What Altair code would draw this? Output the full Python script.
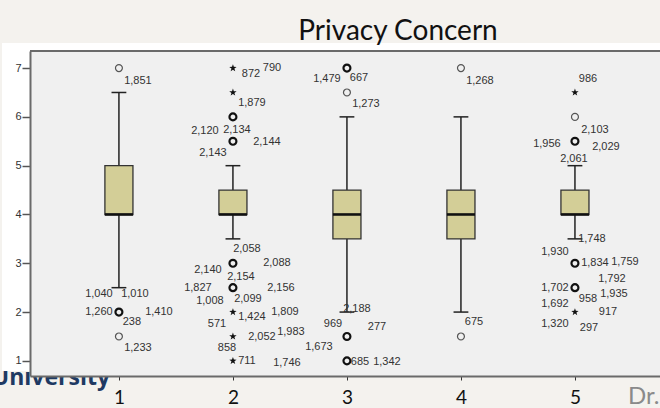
import altair as alt
import pandas as pd

# Box statistics per group
groups = [1, 2, 3, 4, 5]
q1 = [4.0, 4.0, 3.5, 3.5, 4.0]
median = [4.0, 4.0, 4.0, 4.0, 4.0]
q3 = [5.0, 4.5, 4.5, 4.5, 4.5]
whisk_lo = [2.5, 3.5, 2.0, 2.0, 3.5]
whisk_hi = [6.5, 5.0, 6.0, 6.0, 5.0]

# Outliers: "o" = outlier, "*" = extreme
out_group = [1, 1, 1,
             2, 2, 2, 2, 2, 2, 2, 2, 2,
             3, 3, 3, 3,
             4, 4,
             5, 5, 5, 5, 5, 5]
out_value = [7, 2, 1.5,
             7, 6.5, 6, 5.5, 3, 2.5, 2, 1.5, 1,
             7, 6.5, 1.5, 1,
             7, 1.5,
             6.5, 6, 5.5, 3, 2.5, 2]
out_kind = ["o", "o", "o",
            "*", "*", "o", "o", "o", "o", "*", "*", "*",
            "o", "o", "o", "o",
            "o", "o",
            "*", "o", "o", "o", "o", "*"]

# Case labels attached to outliers (number of labels per group: 7, 23, 9, 2, 17)
lab_group = [1] * 7 + [2] * 23 + [3] * 9 + [4] * 2 + [5] * 17
lab_value = [7, 2, 2, 2, 2, 2, 1.5,
             7, 7, 6.5, 6, 6, 5.5, 5.5, 3, 3, 3, 3, 2.5, 2.5, 2.5, 2.5, 2, 2, 2, 1.5, 1.5, 1.5, 1, 1,
             7, 7, 6.5, 1.5, 1.5, 1.5, 1.5, 1, 1,
             7, 1.5,
             6.5, 6, 5.5, 5.5, 5.5, 3, 3, 3, 3, 3, 2.5, 2.5, 2.5, 2.5, 2, 2, 2]
lab_text = ["1,851", "1,040", "1,010", "1,260", "1,410", "238", "1,233",
            "872", "790", "1,879", "2,120", "2,134", "2,144", "2,143",
            "2,058", "2,140", "2,088", "2,154", "1,827", "2,156", "1,008", "2,099",
            "1,424", "1,809", "571", "2,052", "1,983", "858", "711", "1,746",
            "1,479", "667", "1,273", "2,188", "969", "277", "1,673", "685", "1,342",
            "1,268", "675",
            "986", "2,103", "1,956", "2,029", "2,061",
            "1,748", "1,930", "1,834", "1,759", "1,792",
            "1,702", "1,935", "958", "1,692", "917", "1,320", "297"]

# Label placement around each point (pixels)
lab_dx = [19, -20, 16, -20, 40, 13, 19,
          18, 39, 19, -28, 4, 34, -20,
          14, -25, 44, 8, -35, 48, -23, 15,
          19, 52, -16, 29, 58, -6, 14, 54,
          -20, 12, 19, 10, -14, 30, -28, 13, 40,
          19, 13,
          13, 20, -28, 31, -1,
          17, -20, 20, 50, 37,
          -20, 39, 13, -20, 33, -20, 14]
lab_dy = [13, -18, -18, 0, 0, 10, 12,
          6, 0, 11, 14, 13, 1, 12,
          -14, 7, 0, 14, 0, 0, 13, 11,
          5, 0, 12, 1, -4, 12, 0, 2,
          11, 10, 12, -27, -12, -9, 11, 1, 1,
          13, -14,
          -13, 13, 3, 6, 18,
          -24, -11, 0, -1, 16,
          0, 6, 11, 16, 0, 12, 16]

boxes = pd.DataFrame({"group": groups, "q1": q1, "median": median, "q3": q3,
                      "lo": whisk_lo, "hi": whisk_hi})
labels = pd.DataFrame({"group": lab_group, "value": lab_value, "text": lab_text,
                       "dx": lab_dx, "dy": lab_dy})
outliers = pd.DataFrame({"group": out_group, "value": out_value, "kind": out_kind})
counts = labels.groupby(["group", "value"]).size().rename("n").reset_index()
outliers = outliers.merge(counts, on=["group", "value"], how="left").fillna({"n": 1})

one = pd.DataFrame({"k": [0]})

W, H = 630, 325
BOX_HALF = 0.123
CAP_HALF = 0.065
LABEL_FONT = "Liberation Sans"
BOX_FILL = "#d3ce97"
STAR = ("M0,-1L0.235,-0.324L0.951,-0.309L0.380,0.124L0.588,0.809L0,0.4"
        "L-0.588,0.809L-0.380,0.124L-0.951,-0.309L-0.235,-0.324Z")

xs = alt.Scale(domain=[0.22, 5.746], nice=False, zero=False)
ys = alt.Scale(domain=[0.69, 7.35], nice=False, zero=False)

x_axis = alt.Axis(values=groups, format="d", title=None, grid=False, zindex=1,
                  domainColor="#6a6a6a", domainWidth=2, tickColor="#333",
                  tickSize=4, labelFontSize=19, labelFont="Lato",
                  labelColor="#111", labelPadding=8, labelAngle=0)
y_axis = alt.Axis(values=[1, 2, 3, 4, 5, 6, 7], format="d", title=None, grid=False,
                  zindex=1, domainColor="#6a6a6a", domainWidth=2, tickColor="#555",
                  tickSize=8, tickWidth=1.5, labelFontSize=11, labelFont=LABEL_FONT,
                  labelColor="#333", labelPadding=1)

base = alt.Chart(boxes)

# slide footer text partly hidden under the chart panel
footer = alt.Chart(one).mark_text(text="University", font="Open Sans", fontSize=23,
                                  fontWeight="bold", color="#1f3a63", align="right",
                                  baseline="alphabetic").encode(
    x=alt.value(80), y=alt.value(334))
white = alt.Chart(one).mark_rect(color="white").encode(
    x=alt.value(-28), x2=alt.value(W), y=alt.value(-8), y2=alt.value(H - 5))
panel = alt.Chart(one).mark_rect(color="#f0f0f0").encode(
    x=alt.value(0), x2=alt.value(W), y=alt.value(0), y2=alt.value(H))
top_border = alt.Chart(one).mark_rule(color="#6a6a6a", strokeWidth=2).encode(
    x=alt.value(0), x2=alt.value(W), y=alt.value(0))

whisk_up = base.mark_rule(color="#222", strokeWidth=1.5).encode(
    x=alt.X("group:Q", scale=xs, axis=x_axis),
    y=alt.Y("q3:Q", scale=ys, axis=y_axis), y2="hi:Q")
whisk_dn = base.mark_rule(color="#222", strokeWidth=1.5).encode(
    x=alt.X("group:Q", scale=xs), y=alt.Y("lo:Q", scale=ys), y2="q1:Q")

box = base.transform_calculate(
    x0=f"datum.group - {BOX_HALF}", x1=f"datum.group + {BOX_HALF}"
).mark_rect(fill=BOX_FILL, stroke="#333", strokeWidth=1.3).encode(
    x=alt.X("x0:Q", scale=xs), x2="x1:Q",
    y=alt.Y("q1:Q", scale=ys), y2="q3:Q")

med = base.transform_calculate(
    x0=f"datum.group - {BOX_HALF}", x1=f"datum.group + {BOX_HALF}"
).mark_rule(color="#111", strokeWidth=2.6).encode(
    x=alt.X("x0:Q", scale=xs), x2="x1:Q", y=alt.Y("median:Q", scale=ys))

caps = base.transform_fold(["lo", "hi"], as_=["end", "v"]).transform_calculate(
    x0=f"datum.group - {CAP_HALF}", x1=f"datum.group + {CAP_HALF}"
).mark_rule(color="#222", strokeWidth=1.5).encode(
    x=alt.X("x0:Q", scale=xs), x2="x1:Q", y=alt.Y("v:Q", scale=ys))

pts = alt.Chart(outliers)
circ_thin = pts.transform_filter("datum.kind == 'o' && datum.n < 2").mark_point(
    shape="circle", filled=False, size=48, color="#555", strokeWidth=1.2, opacity=1).encode(
    x=alt.X("group:Q", scale=xs), y=alt.Y("value:Q", scale=ys))
circ_bold = pts.transform_filter("datum.kind == 'o' && datum.n >= 2").mark_point(
    shape="circle", filled=False, size=48, color="#111", strokeWidth=2.2, opacity=1).encode(
    x=alt.X("group:Q", scale=xs), y=alt.Y("value:Q", scale=ys))
stars = pts.transform_filter("datum.kind == '*'").mark_point(
    shape=STAR, filled=True, size=60, color="#111", opacity=1).encode(
    x=alt.X("group:Q", scale=xs), y=alt.Y("value:Q", scale=ys))

# case numbers, nudged around their point by per-label pixel offsets
case_text = alt.Chart(labels).mark_text(
    font=LABEL_FONT, fontSize=11, color="#333", align="center", baseline="middle",
    dx=alt.expr("datum.dx"), dy=alt.expr("datum.dy")
).encode(
    x=alt.X("group:Q", scale=xs), y=alt.Y("value:Q", scale=ys),
    text="text:N")

title = alt.Chart(one).mark_text(text="Privacy Concern", font="Lato", fontSize=28,
                                 color="#111", align="center",
                                 baseline="alphabetic").encode(
    x=alt.value(368), y=alt.value(-11))
author = alt.Chart(one).mark_text(text="Dr.", font="Lato", fontSize=24,
                                  color="#8a8a8a", align="left",
                                  baseline="alphabetic").encode(
    x=alt.value(598), y=alt.value(353))

chart = alt.layer(
    footer, white, panel, top_border,
    whisk_up, whisk_dn, box, med, caps,
    circ_thin, circ_bold, stars, case_text, title, author
).properties(
    width=W, height=H, autosize="none",
    padding={"left": 30, "top": 51, "right": 0, "bottom": 32},
    background="#f4f2ee"
).configure_view(stroke=None)

chart.save("out.html", embed_options={"renderer": "svg", "actions": False})
